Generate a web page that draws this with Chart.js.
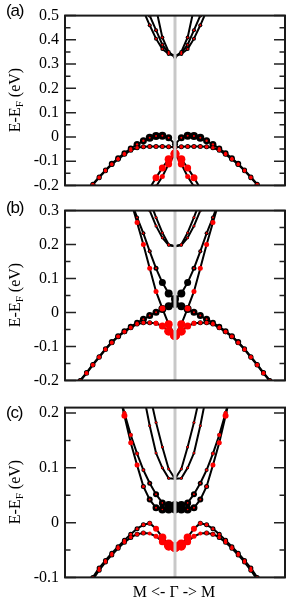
<!DOCTYPE html>
<html>
<head>
<meta charset="utf-8">
<script src="https://cdn.jsdelivr.net/npm/chart.js@4.4.1/dist/chart.umd.min.js"></script>
<style>
  html, body { margin:0; padding:0; background:#fff; }
  body { width:296px; height:607px; position:relative; overflow:hidden; }
  canvas { position:absolute; left:0; }
  .ylab { position:absolute; left:15px; transform:translate(-50%,-50%) rotate(-90deg); font-family:"Liberation Serif",serif; font-size:16px; white-space:nowrap; color:#000; line-height:18px; }
  .ylab sub { font-size:11px; vertical-align:-3px; line-height:0; }
  .plab { position:absolute; left:6px; font-family:"Liberation Sans",Arial,sans-serif; font-size:17px; letter-spacing:-1.2px; color:#000; line-height:20px; }
  .xlab { position:absolute; left:174px; top:592px; transform:translate(-50%,-50%); font-family:"Liberation Serif",serif; font-size:16px; white-space:nowrap; color:#000; }
</style>
</head>
<body>
<canvas id="ca" width="296" height="201" style="top:0px"></canvas>
<canvas id="cb" width="296" height="201" style="top:195px"></canvas>
<canvas id="cc" width="296" height="201" style="top:392px"></canvas>
<div class="plab" style="top:1px">(a)</div>
<div class="plab" style="top:198px">(b)</div>
<div class="plab" style="top:403px">(c)</div>
<div class="ylab" style="top:100px">E-E<sub>F</sub> (eV)</div>
<div class="ylab" style="top:295px">E-E<sub>F</sub> (eV)</div>
<div class="ylab" style="top:492px">E-E<sub>F</sub> (eV)</div>
<div class="xlab">M &lt;- Γ -&gt; M</div>
<script>
// k index: 0 = Γ, ±kMax = M (band values given from Γ outward, path is symmetric)
const kMax = 17.4;

// ---- Panel (a) ----
const yTicksA = [0.5, 0.4, 0.3, 0.2, 0.1, 0, -0.1, -0.2];
const aVU    = [-0.030, -0.004, 0.005, 0.004, -0.004, -0.016, -0.031, -0.048, -0.067, -0.088, -0.111, -0.137, -0.165, -0.195, -0.227];
const aVU_bk = [3, 3.5, 4, 4, 4, 3.5, 3.5, 3, 3, 3, 3, 2.5, 2.5, 2.5, 2.5];
const aVU_rd = [0, 1, 1, 1, 1, 1.2, 1.2, 1.5, 1.5, 1.5, 1.5, 1.5, 1.5, 1.5, 1.5];
const aVL    = [-0.043, -0.041, -0.040, -0.040, -0.040, -0.041, -0.045, -0.055, -0.072, -0.092, -0.114, -0.140, -0.168, -0.198, -0.230];
const aR1    = [-0.070, -0.092, -0.128, -0.168, -0.212];
const aR1_rd = [4.5, 4, 3.5, 3.5, 3];
const aR2    = [-0.070, -0.112, -0.163, -0.205, -0.250];
const aR2_rd = [4.5, 3.5, 2.5, 2, 2];
const aC1    = [0.330, 0.350, 0.410, 0.530];
const aC2    = [0.330, 0.345, 0.380, 0.440, 0.500, 0.570];
const aC3    = [0.335, 0.342, 0.362, 0.405, 0.460, 0.520];

// ---- Panel (b) ----
const yTicksB = [0.3, 0.2, 0.1, 0, -0.1, -0.2];
const bVU    = [0.025, 0.018, 0.010, 0.001, -0.009, -0.020, -0.030, -0.042, -0.055, -0.070, -0.087, -0.107, -0.130, -0.153, -0.177, -0.200, -0.225];
const bVU_bk = [4, 4, 4, 3.5, 3.5, 3.5, 3, 3, 3, 3, 3, 2.5, 2.5, 2.5, 2.5, 2.5, 2.5];
const bVU_rd = [0, 0, 0.8, 1, 1, 1, 1.2, 1.2, 1.5, 1.5, 1.5, 1.5, 1.5, 1.5, 1.5, 1.5, 1.5];
const bVL    = [-0.067, -0.055, -0.040, -0.032, -0.030, -0.030, -0.034, -0.045, -0.057, -0.071, -0.089, -0.109, -0.132, -0.155, -0.179, -0.202, -0.227];
const bVL_bk = [0, 0, 0, 2.5, 2.5, 2.5, 2.5, 2.5, 2.5, 2.5, 2.5, 2.5, 2.5, 2.5, 2.5, 2.5, 2.5];
const bVL_rd = [5, 4.5, 3.5, 2.5, 2, 2, 2, 2, 2, 2, 2, 2, 2, 2, 2, 2, 2];
const bL1    = [-0.067, -0.035, 0.012, 0.062, 0.130, 0.200, 0.265, 0.330];
const bL1_rd = [5, 4, 3, 2.5, 2.5, 2.5, 2.5, 2.5];
const bL2    = [0.040, 0.056, 0.088, 0.130, 0.180, 0.233, 0.280, 0.330];
const bL2_bk = [4, 4, 3.5, 2.5, 2, 2, 2, 2];
const bL2_rd = [0, 0, 0, 1, 1, 1, 1, 1];
const bU1    = [0.195, 0.200, 0.235, 0.280, 0.330];
const bU2    = [0.195, 0.198, 0.220, 0.255, 0.300, 0.350];

// ---- Panel (c) ----
const yTicksC = [0.2, 0.1, 0, -0.1];
const cVU    = [-0.045, -0.040, -0.027, -0.011, -0.001, -0.004, -0.011, -0.021, -0.032, -0.044, -0.056, -0.069, -0.083, -0.100, -0.120];
const cVU_bk = [0, 0, 0, 0, 2.5, 2.5, 2.5, 2.5, 2.5, 2.5, 2.5, 2.5, 2.5, 2.5, 2.5];
const cVU_rd = [5, 5, 4, 3, 2, 1.8, 1.5, 1.5, 1.5, 1.5, 1.5, 1.5, 1.5, 1.5, 1.5];
const cVL    = [-0.045, -0.043, -0.035, -0.025, -0.020, -0.019, -0.021, -0.027, -0.036, -0.047, -0.059, -0.072, -0.087, -0.104, -0.125];
const cVL_bk = [0, 0, 0, 0, 0, 2.5, 2.5, 2.5, 2.5, 2.5, 2.5, 2.5, 2.5, 2.5, 2.5];
const cVL_rd = [5, 4.5, 3.5, 2.5, 2, 2, 2, 1.8, 1.8, 1.8, 1.8, 1.8, 1.8, 1.8, 1.8];
const cA     = [0.024, 0.024, 0.024, 0.027, 0.042, 0.066, 0.105, 0.146, 0.195, 0.245];
const cA_bk  = [4, 4, 4, 3.5, 3, 2.5, 2, 2, 2, 2];
const cA_rd  = [0, 0, 0.8, 1, 1, 1.5, 2.5, 2.5, 3, 3];
const cB     = [0.032, 0.032, 0.036, 0.052, 0.072, 0.096, 0.126, 0.160, 0.200, 0.245];
const cB_bk  = [4, 4, 3.5, 3, 2.5, 2, 2, 2, 2, 2];
const cB_rd  = [0, 0, 0.8, 1, 1, 1.2, 1.5, 2, 2, 2];
const cU1    = [0.080, 0.081, 0.100, 0.127, 0.177, 0.235];
const cU2    = [0.080, 0.098, 0.138, 0.183, 0.235];

// ---- helpers ----
function mirrorPts(e) {
  const pts = [];
  for (let i = e.length - 1; i >= 1; i--) pts.push({x: -i, y: e[i]});
  pts.push({x: 0, y: e[0]});
  for (let i = 1; i < e.length; i++) pts.push({x: i, y: e[i]});
  return pts;
}
function mirrorVals(v, n) {
  if (typeof v === 'number') return v;
  const out = [];
  for (let i = n - 1; i >= 1; i--) out.push(v[i]);
  out.push(v[0]);
  for (let i = 1; i < n; i++) out.push(v[i]);
  return out;
}
function fmt(v) { return Math.abs(v) < 1e-9 ? '0' : v.toFixed(1); }

const framePlugin = {
  id: 'framePlugin',
  afterDatasetsDraw(chart) {
    const ctx = chart.ctx, a = chart.chartArea;
    const gx = chart.scales.x.getPixelForValue(0);
    ctx.save();
    ctx.strokeStyle = '#c8c8c8';
    ctx.lineWidth = 3;
    ctx.beginPath(); ctx.moveTo(gx, a.top); ctx.lineTo(gx, a.bottom); ctx.stroke();
    ctx.restore();
  },
  afterDraw(chart) {
    const ctx = chart.ctx, a = chart.chartArea, ys = chart.scales.y;
    const majors = chart.options.plugins.framePlugin.majors;
    ctx.save();
    ctx.strokeStyle = '#222';
    ctx.lineWidth = 1.5;
    const drawTick = (v, len) => {
      const py = ys.getPixelForValue(v);
      if (py < a.top - 0.5 || py > a.bottom + 0.5) return;
      ctx.beginPath();
      ctx.moveTo(a.left, py); ctx.lineTo(a.left + len, py);
      ctx.moveTo(a.right, py); ctx.lineTo(a.right - len, py);
      ctx.stroke();
    };
    majors.forEach(v => drawTick(v, 11));
    for (let i = 0; i < majors.length - 1; i++) drawTick((majors[i] + majors[i + 1]) / 2, 5.5);
    ctx.lineWidth = 2;
    ctx.strokeStyle = '#1a1a1a';
    ctx.strokeRect(a.left, a.top, a.right - a.left, a.bottom - a.top);
    ctx.restore();
  }
};

function makeChart(id, yMin, yMax, ticks, bands) {
  const datasets = [];
  bands.forEach(b => {
    const n = b.e.length;
    datasets.push({
      data: mirrorPts(b.e), showLine: true, borderColor: '#000', borderWidth: 2,
      pointRadius: mirrorVals(b.bk, n), pointBackgroundColor: '#000', pointBorderWidth: 0,
      pointHoverRadius: 0, tension: 0, order: 1, clip: 0
    });
    datasets.push({
      data: mirrorPts(b.e), showLine: false,
      pointRadius: mirrorVals(b.rd, n), pointBackgroundColor: '#ff0000', pointBorderWidth: 0,
      pointHoverRadius: 0, order: 0, clip: 0
    });
  });
  return new Chart(document.getElementById(id), {
    type: 'scatter',
    data: { datasets },
    plugins: [framePlugin],
    options: {
      responsive: false, animation: false, events: [], devicePixelRatio: 1,
      layout: { padding: { left: 0, right: 11, top: 11, bottom: 11 } },
      plugins: { legend: { display: false }, tooltip: { enabled: false }, framePlugin: { majors: ticks } },
      scales: {
        x: { type: 'linear', min: -kMax, max: kMax, display: false },
        y: {
          type: 'linear', min: yMin, max: yMax,
          afterFit(s) { s.width = 65; },
          afterBuildTicks(s) { s.ticks = ticks.map(v => ({ value: v })); },
          grid: { display: false, drawTicks: false },
          border: { display: false },
          ticks: { padding: 6, color: '#000', font: { family: 'Liberation Serif', size: 16 }, callback: v => fmt(v) }
        }
      }
    }
  });
}

makeChart('ca', -0.2, 0.5, yTicksA, [
  { e: aC1, bk: 2, rd: 1 },
  { e: aC2, bk: 2, rd: 1 },
  { e: aC3, bk: 2, rd: 1 },
  { e: aR1, bk: 0, rd: aR1_rd },
  { e: aR2, bk: 0, rd: aR2_rd },
  { e: aVL, bk: 2.5, rd: 1.8 },
  { e: aVU, bk: aVU_bk, rd: aVU_rd }
]);
makeChart('cb', -0.2, 0.3, yTicksB, [
  { e: bU1, bk: 1.5, rd: 1 },
  { e: bU2, bk: 1.5, rd: 1 },
  { e: bL1, bk: 0, rd: bL1_rd },
  { e: bL2, bk: bL2_bk, rd: bL2_rd },
  { e: bVL, bk: bVL_bk, rd: bVL_rd },
  { e: bVU, bk: bVU_bk, rd: bVU_rd }
]);
makeChart('cc', -0.1, 0.21, yTicksC, [
  { e: cU1, bk: 1.5, rd: 1 },
  { e: cU2, bk: 1.5, rd: 1 },
  { e: cA, bk: cA_bk, rd: cA_rd },
  { e: cB, bk: cB_bk, rd: cB_rd },
  { e: cVL, bk: cVL_bk, rd: cVL_rd },
  { e: cVU, bk: cVU_bk, rd: cVU_rd }
]);
</script>
</body>
</html>
